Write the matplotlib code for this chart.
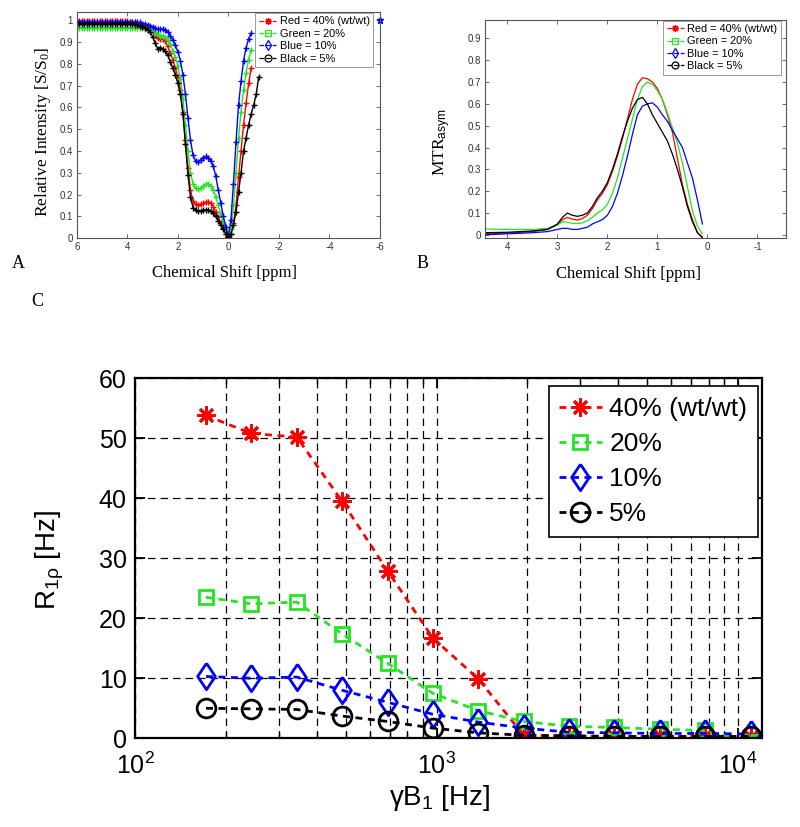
import matplotlib
matplotlib.use("Agg")
import matplotlib.pyplot as plt
from matplotlib.lines import Line2D

plt.rcParams['font.family'] = ['Liberation Sans', 'DejaVu Sans']
plt.rcParams['mathtext.fontset'] = 'custom'
plt.rcParams['mathtext.rm'] = 'Liberation Sans'
plt.rcParams['mathtext.it'] = 'Liberation Sans:italic'
plt.rcParams['mathtext.default'] = 'regular'

RED = '#ff0000'
GREEN = '#22e622'
BLUE = '#0000ff'
BLACK = '#000000'
SERIF = ['Liberation Serif', 'DejaVu Serif']
GREY = '#333333'

# ---- panel A: Z-spectra (relative intensity vs chemical shift)
ppm_a = [6.0, 5.9, 5.8, 5.7, 5.6, 5.5, 5.4, 5.3, 5.2, 5.1, 5.0, 4.9, 4.8, 4.7, 4.6,
         4.5, 4.4, 4.3, 4.2, 4.1, 4.0, 3.9, 3.8, 3.7, 3.6, 3.5, 3.4, 3.3, 3.2, 3.1,
         3.0, 2.9, 2.8, 2.7, 2.6, 2.5, 2.4, 2.3, 2.2, 2.1, 2.0, 1.9, 1.8, 1.7, 1.6,
         1.5, 1.4, 1.3, 1.2, 1.1, 1.0, 0.9, 0.8, 0.7, 0.6, 0.5, 0.4, 0.3, 0.2, 0.1,
         0.0, -0.1, -0.2, -0.3, -0.4, -0.5, -0.6, -0.7, -0.8, -0.9, -1.0, -1.1, -1.2]

z_red = [0.995, 0.995, 0.995, 0.995, 0.995, 0.995, 0.995, 0.995, 0.995, 0.995,
         0.995, 0.995, 0.995, 0.995, 0.995, 0.995, 0.995, 0.995, 0.995, 0.995,
         0.995, 0.99, 0.99, 0.99, 0.985, 0.985, 0.98, 0.975, 0.97, 0.96,
         0.955, 0.94, 0.92, 0.915, 0.915, 0.905, 0.88, 0.85, 0.82, 0.78,
         0.74, 0.68, 0.58, 0.45, 0.32, 0.22, 0.17, 0.155, 0.15, 0.155,
         0.16, 0.165, 0.165, 0.16, 0.145, 0.12, 0.095, 0.07, 0.045, 0.02,
         0.005, 0.02, 0.07, 0.15, 0.28, 0.40, 0.52, 0.62, 0.71, 0.78]
z_green = [0.965, 0.965, 0.965, 0.965, 0.965, 0.965, 0.965, 0.965, 0.965, 0.965,
           0.965, 0.965, 0.965, 0.965, 0.965, 0.965, 0.965, 0.965, 0.965, 0.965,
           0.965, 0.965, 0.965, 0.965, 0.965, 0.965, 0.965, 0.962, 0.96, 0.958,
           0.955, 0.945, 0.935, 0.93, 0.93, 0.925, 0.91, 0.89, 0.86, 0.83,
           0.79, 0.73, 0.64, 0.52, 0.40, 0.30, 0.25, 0.23, 0.225, 0.23,
           0.24, 0.25, 0.25, 0.24, 0.22, 0.19, 0.15, 0.11, 0.07, 0.035,
           0.01, 0.04, 0.15, 0.30, 0.46, 0.58, 0.68, 0.76, 0.82, 0.865]
z_blue = [0.99, 0.99, 0.99, 0.99, 0.99, 0.99, 0.99, 0.99, 0.99, 0.99,
          0.99, 0.99, 0.99, 0.99, 0.99, 0.99, 0.99, 0.99, 0.99, 0.99,
          0.99, 0.99, 0.99, 0.99, 0.99, 0.99, 0.985, 0.985, 0.98, 0.975,
          0.97, 0.965, 0.96, 0.96, 0.96, 0.955, 0.945, 0.93, 0.91, 0.885,
          0.855, 0.815, 0.75, 0.66, 0.55, 0.45, 0.38, 0.355, 0.35, 0.36,
          0.37, 0.375, 0.37, 0.355, 0.33, 0.285, 0.22, 0.16, 0.10, 0.05,
          0.01, 0.085, 0.25, 0.44, 0.61, 0.72, 0.815, 0.875, 0.915, 0.94]
z_black = [0.985, 0.985, 0.985, 0.985, 0.985, 0.985, 0.985, 0.985, 0.985, 0.985,
           0.985, 0.985, 0.985, 0.985, 0.985, 0.985, 0.985, 0.985, 0.985, 0.985,
           0.985, 0.985, 0.985, 0.98, 0.98, 0.975, 0.97, 0.965, 0.955, 0.945,
           0.925, 0.895, 0.87, 0.875, 0.87, 0.86, 0.84, 0.81, 0.78, 0.75,
           0.71, 0.66, 0.57, 0.43, 0.29, 0.19, 0.14, 0.13, 0.125, 0.125,
           0.13, 0.13, 0.13, 0.125, 0.115, 0.10, 0.08, 0.06, 0.04, 0.02,
           0.005, 0.02, 0.06, 0.12, 0.21, 0.30, 0.40, 0.46, 0.52, 0.57,
           0.61, 0.66, 0.74]
ref_ppm = [-6.0]
ref_blue = [1.0]

# ---- panel B: MTR asymmetry
ppm_b = [4.5, 4.0, 3.5, 3.2, 3.0, 2.9, 2.8, 2.7, 2.6, 2.5, 2.4, 2.3, 2.2, 2.1, 2.0,
         1.9, 1.8, 1.7, 1.6, 1.5, 1.4, 1.3, 1.2, 1.1, 1.0, 0.9, 0.8, 0.7, 0.6, 0.5,
         0.4, 0.3, 0.2, 0.1]
mtr_red = [0.005, 0.008, 0.015, 0.025, 0.045, 0.07, 0.08, 0.072, 0.068, 0.075,
           0.09, 0.12, 0.16, 0.19, 0.23, 0.29, 0.36, 0.44, 0.53, 0.62,
           0.69, 0.72, 0.715, 0.70, 0.67, 0.62, 0.55, 0.47, 0.35, 0.23,
           0.14, 0.07, 0.01, -0.015]
mtr_green = [0.027, 0.025, 0.025, 0.03, 0.045, 0.06, 0.058, 0.053, 0.052, 0.055,
             0.065, 0.08, 0.10, 0.115, 0.14, 0.19, 0.26, 0.35, 0.44, 0.53,
             0.62, 0.68, 0.70, 0.69, 0.66, 0.62, 0.56, 0.49, 0.42, 0.33,
             0.22, 0.11, 0.04, 0.005]
mtr_blue = [0.0, 0.005, 0.01, 0.015, 0.025, 0.03, 0.03, 0.025, 0.025, 0.03,
            0.035, 0.05, 0.06, 0.07, 0.09, 0.13, 0.19, 0.27, 0.36, 0.46,
            0.55, 0.59, 0.60, 0.605, 0.585, 0.55, 0.52, 0.48, 0.44, 0.40,
            0.33, 0.26, 0.16, 0.05]
mtr_black = [0.01, 0.012, 0.018, 0.025, 0.05, 0.08, 0.10, 0.09, 0.085, 0.09,
             0.10, 0.13, 0.17, 0.20, 0.24, 0.30, 0.37, 0.45, 0.52, 0.58,
             0.62, 0.63, 0.60, 0.55, 0.51, 0.47, 0.43, 0.37, 0.30, 0.22,
             0.13, 0.06, 0.01, -0.01]

# ---- panel C: R1rho vs spin-lock amplitude
gb1 = [172, 243, 344, 486, 688, 972, 1375, 1945, 2750, 3890, 5500, 7780, 11000]
r1_40 = [53.8, 50.8, 50.2, 39.5, 27.9, 16.7, 9.9, 0.5, 0.4, 0.3, 0.3, 0.3, 0.2]
r1_20 = [23.5, 22.4, 22.7, 17.4, 12.5, 7.5, 4.6, 2.8, 2.0, 1.8, 1.5, 1.3, -0.6]
r1_10 = [10.3, 10.0, 10.2, 8.0, 6.0, 4.0, 2.7, 1.7, 1.0, 0.9, 0.8, 0.8, 0.7]
r1_5 = [5.0, 4.9, 4.8, 3.7, 2.8, 1.7, 0.9, 0.5, 0.4, 0.3, 0.3, 0.3, 0.3]

small_labels = ['Red = 40% (wt/wt)', 'Green = 20%', 'Blue = 10%', 'Black = 5%']
big_labels = ['40% (wt/wt)', '20%', '10%', '5%']
colors = [RED, GREEN, BLUE, BLACK]
markers = [(8, 2, 0), 's', 'd', 'o']
# slightly stretched diamond like the one in panel C
tall_diamond = [(0, 1), (0.67, 0), (0, -1), (-0.67, 0), (0, 1)]
markers_c = [(8, 2, 0), 's', tall_diamond, 'o']

fig = plt.figure(figsize=(8, 8.27), dpi=100)


def style_small(ax):
    for s in ax.spines.values():
        s.set_color('#555555')
        s.set_linewidth(0.8)
    ax.tick_params(direction='in', length=3, width=0.6, colors='#555555',
                   labelcolor=GREY, labelsize=7, top=True, right=True, pad=3)


def small_legend(ax, anchor):
    handles = [Line2D([], [], color=c, ls='--', lw=0.9, marker=m, ms=5,
                      mfc='none', mew=0.9) for c, m in zip(colors, markers)]
    leg = ax.legend(handles, small_labels, loc='upper right', bbox_to_anchor=anchor,
                    borderaxespad=0, fontsize=7.9, fancybox=False, framealpha=1,
                    handlelength=1.6, handletextpad=0.3, labelspacing=0.22,
                    borderpad=0.3)
    leg.get_frame().set_edgecolor('#999999')
    leg.get_frame().set_linewidth(0.7)


# panel A
axA = fig.add_axes([0.096, 0.712, 0.379, 0.274])
axA.plot(ppm_a[:70], z_red, '-', color=RED, marker='+', ms=5, lw=1)
axA.plot(ppm_a[:70], z_green, '-', color=GREEN, marker='+', ms=5, lw=1)
axA.plot(ppm_a[:70], z_blue, '-', color=BLUE, marker='+', ms=5, lw=1)
axA.plot(ppm_a, z_black, '-', color=BLACK, marker='+', ms=5, lw=1)
axA.plot(ref_ppm, ref_blue, ls='none', color=BLUE, marker='*', ms=5, clip_on=False)
axA.set_xlim(6, -6)
axA.set_ylim(0, 1.04)
axA.set_xticks([6, 4, 2, 0, -2, -4, -6])
axA.set_xticklabels(['6', '4', '2', '0', '-2', '-4', '-6'])
axA.set_yticks([0, 0.1, 0.2, 0.3, 0.4, 0.5, 0.6, 0.7, 0.8, 0.9, 1.0])
axA.set_yticklabels(['0', '0.1', '0.2', '0.3', '0.4', '0.5', '0.6', '0.7', '0.8', '0.9', '1'])
style_small(axA)
small_legend(axA, (0.977, 0.993))

# panel B
axB = fig.add_axes([0.606, 0.712, 0.3765, 0.264])
for y, c in zip([mtr_red, mtr_green, mtr_blue, mtr_black], colors):
    axB.plot(ppm_b, y, '-', color=c, lw=0.9)
axB.set_xlim(4.45, -1.57)
axB.set_ylim(-0.015, 0.985)
axB.set_xticks([4, 3, 2, 1, 0, -1])
axB.set_xticklabels(['4', '3', '2', '1', '0', '-1'])
axB.set_yticks([0, 0.1, 0.2, 0.3, 0.4, 0.5, 0.6, 0.7, 0.8, 0.9])
axB.set_yticklabels(['0', '0.1', '0.2', '0.3', '0.4', '0.5', '0.6', '0.7', '0.8', '0.9'])
style_small(axB)
small_legend(axB, (0.983, 0.996))

# serif labels for the top panels
fig.text(43 / 800, 1 - 132 / 827, 'Relative Intensity [S/S$_0$]', rotation=90,
         ha='center', va='center', family=SERIF, fontsize=12.5)
fig.text(224 / 800, 1 - 273 / 827, 'Chemical Shift [ppm]', ha='center', va='center',
         family=SERIF, fontsize=12)
fig.text(442 / 800, 1 - 142 / 827, 'MTR$_{\\mathrm{asym}}$', rotation=90,
         ha='center', va='center', family=SERIF, fontsize=12.5)
fig.text(628 / 800, 1 - 274 / 827, 'Chemical Shift [ppm]', ha='center', va='center',
         family=SERIF, fontsize=12)
fig.text(18 / 800, 1 - 263 / 827, 'A', ha='center', va='center', family=SERIF, fontsize=13)
fig.text(423 / 800, 1 - 263 / 827, 'B', ha='center', va='center', family=SERIF, fontsize=13)
fig.text(37 / 800, 1 - 302 / 827, 'C', ha='center', va='center', family=SERIF, fontsize=13)

# panel C
axC = fig.add_axes([0.16875, 0.1073, 0.78375, 0.4353])
axC.set_xscale('log')
sizes = [13, 10, 19, 13.5]
for y, c, m, ms in zip([r1_40, r1_20, r1_10, r1_5], colors, markers_c, sizes):
    axC.plot(gb1, y, color=c, ls=(0, (2.5, 2)), lw=2, marker=m, ms=ms,
             mfc='none', mec=c, mew=2)
axC.set_xlim(100, 12000)
axC.set_ylim(0, 60)
axC.set_yticks([0, 10, 20, 30, 40, 50, 60])
axC.grid(True, which='both', axis='x', color='k', ls=(0, (6, 4)), lw=0.9)
axC.grid(True, which='major', axis='y', color='k', ls=(0, (6, 4)), lw=0.9)
axC.set_axisbelow(True)
for s in axC.spines.values():
    s.set_linewidth(1.6)
axC.tick_params(which='major', direction='in', length=7, width=1.3, labelsize=18,
                top=True, right=True, pad=6)
axC.tick_params(axis='x', which='major', pad=10)
axC.tick_params(which='minor', direction='in', length=4, width=1.0, top=True, right=True)
handles = [Line2D([], [], color=c, ls=(0, (2.5, 2)), lw=2, marker=m, ms=ms,
                  mfc='none', mew=2) for c, m, ms in zip(colors, markers_c, sizes)]
legC = axC.legend(handles, big_labels, loc='upper right', bbox_to_anchor=(0.9936, 0.978),
                  borderaxespad=0, fontsize=19, fancybox=False, framealpha=1,
                  handlelength=1.6, handletextpad=0.3, labelspacing=0.42, borderpad=0.4)
legC.get_frame().set_edgecolor('k')
legC.get_frame().set_linewidth(1.2)

fig.text(50 / 800, 1 - 560 / 827, 'R$_{1ρ}$ [Hz]', rotation=90, ha='center',
         va='center', fontsize=20)
fig.text(440 / 800, 1 - 798 / 827, 'γB$_1$ [Hz]', ha='center', va='center', fontsize=20)

fig.savefig('out.png', dpi=100)
